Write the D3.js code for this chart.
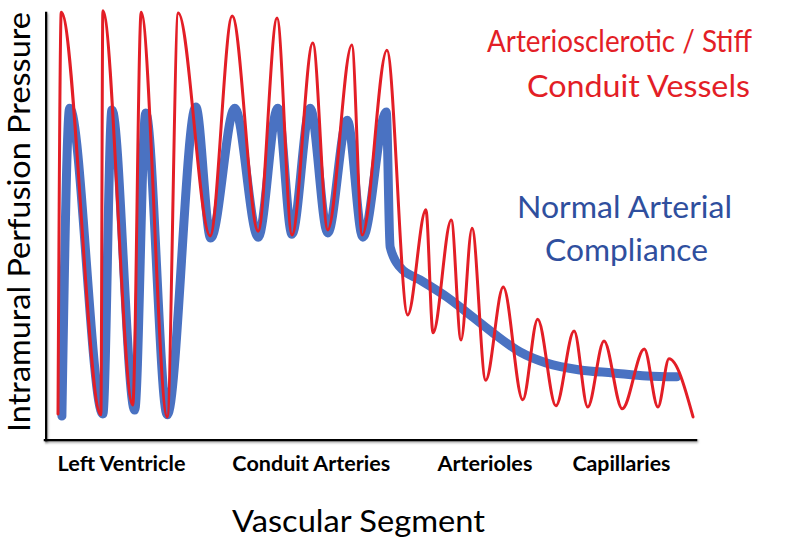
<!DOCTYPE html>
<html>
<head>
<meta charset="utf-8">
<script src="https://cdn.jsdelivr.net/npm/d3@7"></script>
<style>
  html, body { margin: 0; padding: 0; background: #fff; }
  svg { display: block; }
  text { font-family: Lato, "Open Sans", sans-serif; }
</style>
</head>
<body>
<svg id="chart" width="800" height="546"></svg>
<script>
// ---- data (x: position along vascular tree 0-100, y: relative pressure 0-100) ----
const stiffX = [2.0, 2.5, 8.6, 8.9, 13.5, 14.8, 18.8, 20.5, 25.4, 28.8, 32.8, 35.7, 38.0, 41.2, 43.5, 47.2, 48.8, 52.6,
                55.8, 58.6, 59.7, 62.5, 64.0, 65.7, 67.8, 70.5, 73.5, 75.8, 78.6, 81.4, 83.5, 86.0, 88.8, 92.2, 94.3, 96.0, 99.7];
const stiffY = [5.4, 99.5, 5.2, 99.8, 7.5, 99.5, 4.7, 99.3, 47.1, 98.6, 48.2, 98.1, 47.3, 92.3, 48.5, 91.8, 47.3, 90.6,
                28.6, 53.2, 24.4, 50.8, 22.7, 48.9, 13.3, 35.1, 8.7, 27.6, 7.3, 24.8, 7.0, 22.5, 6.6, 20.6, 7.0, 18.3, 4.7];

const normalX = [2.6, 3.8, 8.9, 10.3, 13.8, 15.5, 18.8, 23.2, 25.5, 29.2, 32.8, 35.8, 38.0, 40.8, 43.5, 46.5, 48.9, 52.5,
                 53.1, 54.6, 57.7, 61.8, 65.8, 68.9, 73.1, 77.2, 82.3, 87.4, 92.6, 97.2];
const normalY = [4.9, 77.0, 5.4, 76.6, 6.3, 75.9, 5.2, 77.3, 46.6, 77.0, 46.8, 77.0, 47.5, 77.0, 47.8, 74.2, 46.8, 76.1,
                 44.5, 39.8, 36.8, 32.8, 28.1, 24.4, 19.9, 17.3, 15.7, 15.0, 14.3, 14.1];

const segmentNames = ["Left Ventricle", "Conduit Arteries", "Arterioles", "Capillaries"];
const segmentTicks = [11.7, 40.9, 67.6, 88.6];

const stiffLabel = ["Arteriosclerotic / Stiff", "Conduit Vessels"];
const normalLabel = ["Normal Arterial", "Compliance"];
const xTitle = "Vascular Segment";
const yTitle = "Intramural Perfusion Pressure";

// ---- drawing ----
const svg = d3.select("#chart");
const RED = "#e31e26", BLUE = "#4a72c2", BLUE_TEXT = "#2f4f9e";

const x = d3.scaleLinear().domain([0, 100]).range([45, 695]);
const y = d3.scaleLinear().domain([0, 100]).range([437, 10]);

const line = d3.line().x(d => x(d[0])).y(d => y(d[1])).curve(d3.curveMonotoneX);

const normal = normalX.map((v, i) => [v, normalY[i]]);
const stiff = stiffX.map((v, i) => [v, stiffY[i]]);

// axes
const defs = svg.append("defs");
const f = defs.append("filter").attr("id", "shadow").attr("filterUnits", "userSpaceOnUse")
  .attr("x", 0).attr("y", 0).attr("width", 800).attr("height", 546);
f.append("feDropShadow").attr("dx", 1).attr("dy", 1.5).attr("stdDeviation", 1).attr("flood-color", "#000").attr("flood-opacity", 0.35);

const axisY = d3.scaleLinear().domain([0, 100]).range([439, 13]);
const gy = svg.append("g").attr("transform", "translate(45,0)")
  .call(d3.axisLeft(axisY).tickValues([]).tickSizeOuter(0));
const gx = svg.append("g").attr("transform", "translate(0,439)")
  .call(d3.axisBottom(x).tickValues(segmentTicks).tickSize(0).tickSizeOuter(0)
        .tickFormat((d, i) => segmentNames[i]));
[gx, gy].forEach(g => g.select(".domain").attr("stroke", "#000").attr("stroke-width", 3.5)
  .attr("stroke-linecap", "square").attr("filter", "url(#shadow)"));
const labelWidths = [128, 158, 95, 98];
gx.selectAll(".tick text")
  .attr("y", 0).attr("dy", 0)
  .attr("transform", "translate(0,32)")
  .attr("fill", "#000")
  .style("font-family", "Lato, 'Open Sans', sans-serif")
  .style("font-weight", "bold")
  .style("font-size", "20px")
  .attr("textLength", (d, i) => labelWidths[i])
  .attr("lengthAdjust", "spacingAndGlyphs");

// series
svg.append("path").datum(normal)
  .attr("d", line).attr("fill", "none")
  .attr("stroke", BLUE).attr("stroke-width", 9)
  .attr("stroke-linecap", "round").attr("stroke-linejoin", "round");

svg.append("path").datum(stiff)
  .attr("d", line).attr("fill", "none")
  .attr("stroke", RED).attr("stroke-width", 3)
  .attr("stroke-linecap", "round").attr("stroke-linejoin", "round");

// annotations
function fitText(sel, w) {
  sel.attr("textLength", w).attr("lengthAdjust", "spacingAndGlyphs");
}
svg.append("text").attr("x", 487).attr("y", 52).attr("fill", RED).style("font-size", "31px")
  .text(stiffLabel[0]).call(fitText, 265);
svg.append("text").attr("x", 527).attr("y", 97).attr("fill", RED).style("font-size", "31px")
  .text(stiffLabel[1]).call(fitText, 223);
svg.append("text").attr("x", 517).attr("y", 218).attr("fill", BLUE_TEXT).style("font-size", "31px")
  .text(normalLabel[0]).call(fitText, 215);
svg.append("text").attr("x", 545).attr("y", 261).attr("fill", BLUE_TEXT).style("font-size", "31px")
  .text(normalLabel[1]).call(fitText, 163);

svg.append("text").attr("x", 232).attr("y", 532).attr("fill", "#000").style("font-size", "31px")
  .text(xTitle).call(fitText, 253);

svg.append("text")
  .attr("transform", "translate(30,432) rotate(-90)")
  .attr("x", 0).attr("y", 0).attr("fill", "#000").style("font-size", "31px")
  .text(yTitle).call(fitText, 420);
</script>
</body>
</html>
